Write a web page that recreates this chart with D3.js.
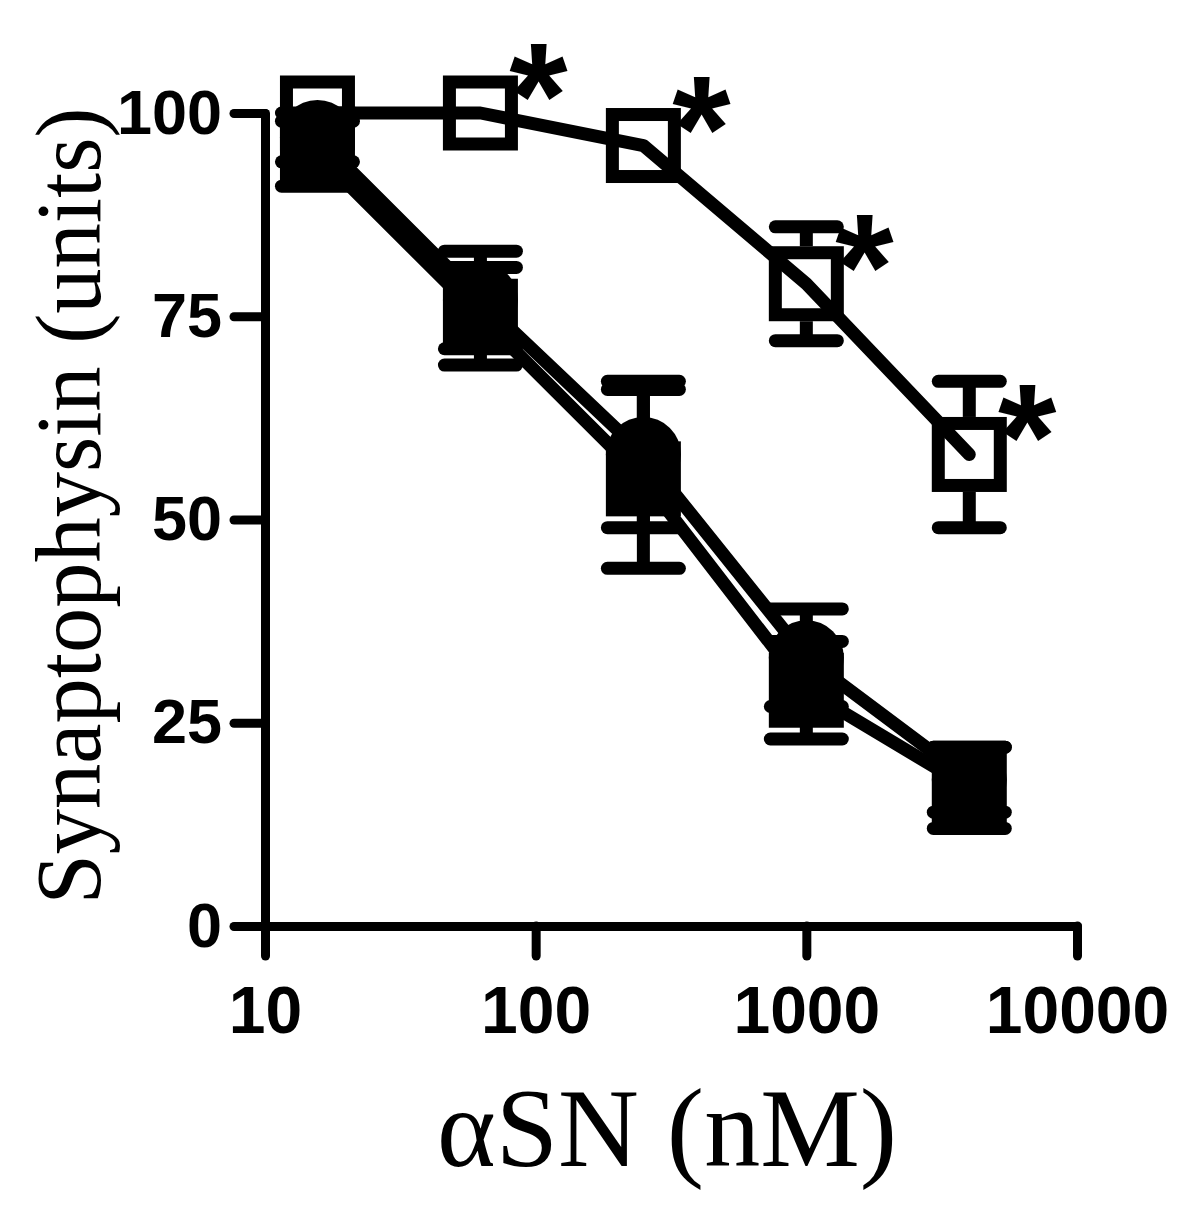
<!DOCTYPE html>
<html><head><meta charset="utf-8">
<script src="https://cdn.jsdelivr.net/npm/d3@7"></script>
<style>body{margin:0;background:#fff}</style>
</head><body>
<svg id="chart" width="1200" height="1212"></svg>
<script>
const concentrations = [15.625, 62.5, 250, 1000, 4000];
const openMean = [100, 100, 96, 79, 58];
const openErr = [1.5, 1.5, 4.5, 7, 9];
const circleMean = [97, 77, 58, 33, 18];
const circleErr = [3, 6, 9, 6, 4];
const squareMean = [95, 75, 55, 29, 17];
const squareErr = [4, 6, 11, 6, 5];
const significant = [false, true, true, true, true];
const xTicks = [10, 100, 1000, 10000];
const yTicks = [0, 25, 50, 75, 100];
const xTitle = "αSN (nM)";
const yTitle = "Synaptophysin (units)";

const svg = d3.select("#chart");
svg.append("rect").attr("width", 1200).attr("height", 1212).attr("fill", "#fff");

const x = d3.scaleLog().domain([10, 10000]).range([265, 1077]);
const y = d3.scaleLinear().domain([0, 100]).range([926, 113]);

const LW = 13;
const BOX = 75;      // marker outer size
const CAPO = 31, CAPF = 36;

// axes
const yAxis = d3.axisLeft(y).tickValues(yTicks).tickSize(31).tickSizeOuter(0).tickPadding(12).tickFormat(d3.format("d"));
const xAxis = d3.axisBottom(x).tickValues(xTicks).tickSize(30).tickSizeOuter(0).tickPadding(30).tickFormat(d3.format("d"));

const gy = svg.append("g").attr("transform", `translate(${x.range()[0]},0)`).call(yAxis);
const gx = svg.append("g").attr("transform", `translate(0,${y.range()[0]})`).call(xAxis);
[gx, gy].forEach(g => {
  g.select(".domain").attr("stroke", "#000").attr("stroke-width", 9).attr("stroke-linecap", "round").attr("fill", "none");
  g.selectAll(".tick line").attr("stroke", "#000").attr("stroke-width", 9).attr("stroke-linecap", "round");
  g.selectAll(".tick text").attr("fill", "#000").attr("font-family", "Liberation Sans, Arial, sans-serif").attr("font-weight", "bold");
});
gy.selectAll(".tick text").attr("font-size", 63);
gx.selectAll(".tick text").attr("font-size", 66);

// titles
svg.append("text").text(yTitle)
  .attr("transform", `translate(100,506) rotate(-90)`)
  .attr("text-anchor", "middle")
  .attr("font-family", "Liberation Serif, Times New Roman, serif")
  .attr("font-size", 94)
  .attr("textLength", 797).attr("lengthAdjust", "spacingAndGlyphs")
  .attr("fill", "#000");
svg.append("text").text(xTitle)
  .attr("x", 667).attr("y", 1166)
  .attr("text-anchor", "middle")
  .attr("font-family", "Liberation Serif, Times New Roman, serif")
  .attr("font-size", 113)
  .attr("textLength", 460).attr("lengthAdjust", "spacingAndGlyphs")
  .attr("fill", "#000");

function series(mean, err) {
  return concentrations.map((c, i) => ({c, m: mean[i], e: err[i], i}));
}
const openData = series(openMean, openErr);
const circData = series(circleMean, circleErr);
const sqData = series(squareMean, squareErr);

const line = d3.line().x(d => x(d.c)).y(d => y(d.m));

function errorBars(g, data, cap, gap) {
  data.forEach(d => {
    const cx = x(d.c);
    const top = y(d.m + d.e), bot = y(d.m - d.e), mid = y(d.m);
    const eb = g.append("g").attr("stroke", "#000").attr("stroke-width", LW).attr("stroke-linecap", "round");
    if (mid - top > gap) {
      eb.append("line").attr("x1", cx).attr("x2", cx).attr("y1", top).attr("y2", mid - gap).attr("stroke-linecap", "butt");
      eb.append("line").attr("x1", cx - cap).attr("x2", cx + cap).attr("y1", top).attr("y2", top);
    }
    if (bot - mid > gap) {
      eb.append("line").attr("x1", cx).attr("x2", cx).attr("y1", mid + gap).attr("y2", bot).attr("stroke-linecap", "butt");
      eb.append("line").attr("x1", cx - cap).attr("x2", cx + cap).attr("y1", bot).attr("y2", bot);
    }
  });
}

// open squares series
const gO = svg.append("g");
errorBars(gO, openData, CAPO, BOX / 2);
gO.append("path").datum(openData).attr("d", line)
  .attr("fill", "none").attr("stroke", "#000").attr("stroke-width", LW)
  .attr("stroke-linejoin", "round").attr("stroke-linecap", "round");
gO.selectAll("rect").data(openData).join("rect")
  .attr("x", d => x(d.c) - (BOX - LW) / 2).attr("y", d => y(d.m) - (BOX - LW) / 2)
  .attr("width", BOX - LW).attr("height", BOX - LW)
  .attr("fill", "none").attr("stroke", "#000").attr("stroke-width", LW);

// filled circle series
const gC = svg.append("g");
errorBars(gC, circData, CAPF, 0);
gC.append("path").datum(circData).attr("d", line)
  .attr("fill", "none").attr("stroke", "#000").attr("stroke-width", LW)
  .attr("stroke-linejoin", "round").attr("stroke-linecap", "round");
gC.selectAll("circle").data(circData).join("circle")
  .attr("cx", d => x(d.c)).attr("cy", d => y(d.m)).attr("r", BOX / 2).attr("fill", "#000");

// filled square series
const gS = svg.append("g");
errorBars(gS, sqData, CAPF, 0);
gS.append("path").datum(sqData).attr("d", line)
  .attr("fill", "none").attr("stroke", "#000").attr("stroke-width", LW)
  .attr("stroke-linejoin", "round").attr("stroke-linecap", "round");
gS.selectAll("rect").data(sqData).join("rect")
  .attr("x", d => x(d.c) - BOX / 2).attr("y", d => y(d.m) - BOX / 2)
  .attr("width", BOX).attr("height", BOX).attr("fill", "#000");

// significance asterisks
svg.append("g").selectAll("text").data(openData.filter(d => significant[d.i])).join("text")
  .text("*")
  .attr("x", d => x(d.c) + 58).attr("y", d => y(d.m) - 49 + 84)
  .attr("text-anchor", "middle")
  .attr("font-family", "Liberation Sans, Arial, sans-serif")
  .attr("font-weight", "bold").attr("font-size", 150).attr("fill", "#000");
</script>
</body></html>
